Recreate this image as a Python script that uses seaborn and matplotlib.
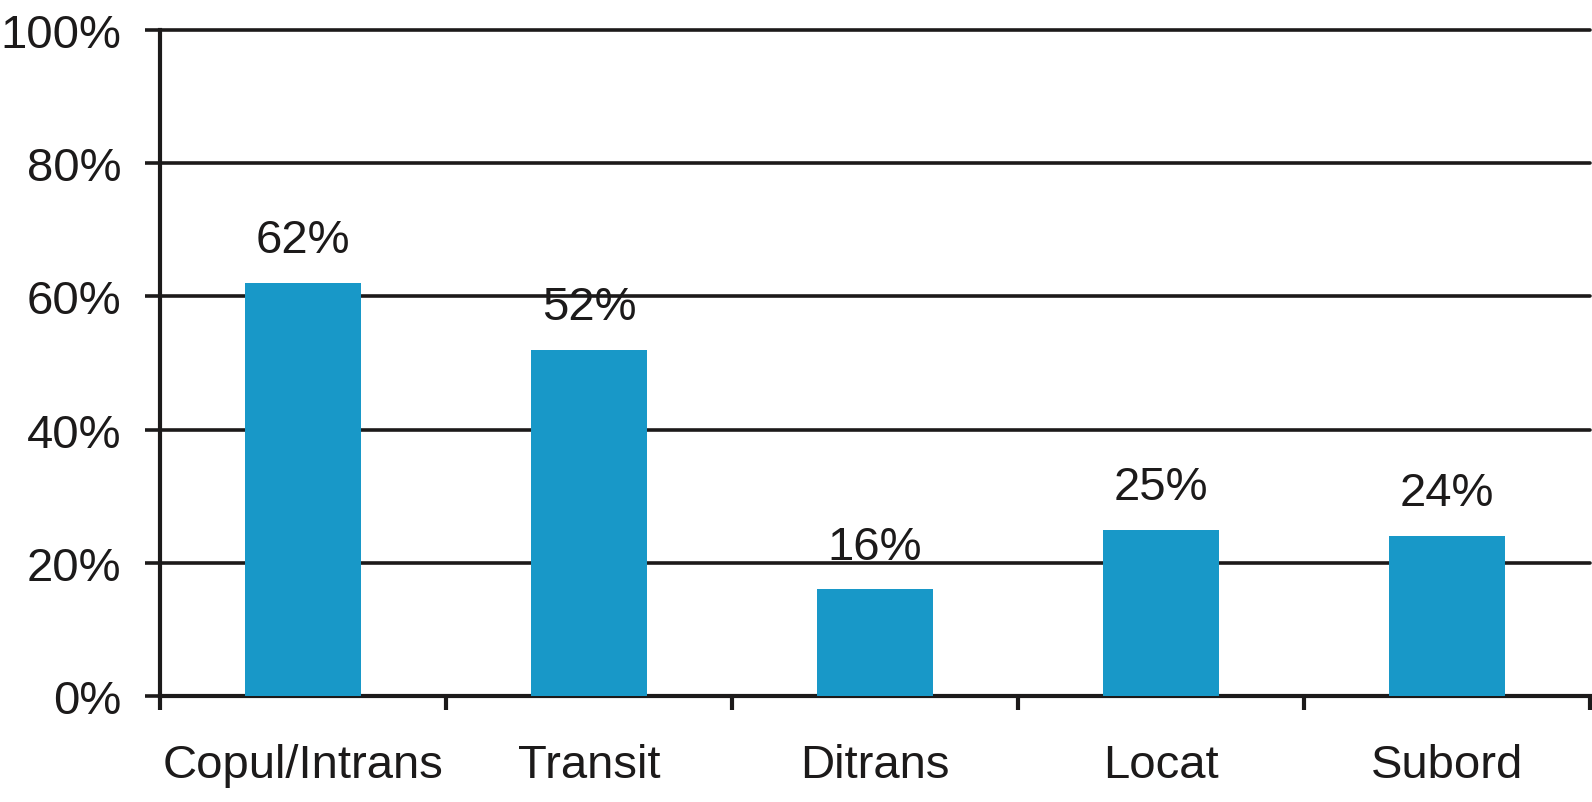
import numpy as np
import pandas as pd
import seaborn as sns
import matplotlib.pyplot as plt
from matplotlib.ticker import FixedLocator, PercentFormatter

categories = ["Copul/Intrans", "Transit", "Ditrans", "Locat", "Subord"]
percents = [62, 52, 16, 25, 24]
y_ticks = [0, 20, 40, 60, 80, 100]

bar_color = "#1898c8"
ink = "#1c1a1a"

sns.set_theme(style="white")
plt.rcParams["font.family"] = ["Liberation Sans", "DejaVu Sans"]

df = pd.DataFrame({"category": categories, "percent": percents})

fig = plt.figure(figsize=(15.92, 8.03), dpi=100)
ax = fig.add_axes([160 / 1592, 1 - 697 / 803, 1430 / 1592, 666 / 803])

sns.barplot(data=df, x="category", y="percent", color=bar_color,
            saturation=1, width=0.405, linewidth=0, ax=ax, zorder=3)

ax.set_xlim(-0.5, len(categories) - 0.5)
ax.set_ylim(0, 100)
ax.set_yticks(y_ticks)
ax.yaxis.set_major_formatter(PercentFormatter(decimals=0))
ax.yaxis.grid(True, color=ink, linewidth=2.6)
ax.set_axisbelow(True)
# keep the 100% line at full width instead of half clipped
for gl in ax.get_ygridlines():
    gl.set_clip_on(False)

# x ticks sit between the categories
ax.xaxis.set_minor_locator(FixedLocator(np.arange(-0.5, len(categories), 1.0)))
ax.tick_params(axis="x", which="major", length=0, pad=34, labelsize=34, colors=ink)
ax.tick_params(axis="x", which="minor", length=10, width=3, direction="out", color=ink)
ax.tick_params(axis="y", length=11, width=2.6, direction="out", pad=17,
               labelsize=34, color=ink, labelcolor=ink)
ax.tick_params(axis="both", which="both", bottom=True, left=True)

for side in ["top", "right"]:
    ax.spines[side].set_visible(False)
for side in ["left", "bottom"]:
    ax.spines[side].set_linewidth(3)
    ax.spines[side].set_color(ink)

for i, v in enumerate(percents):
    ax.annotate(f"{v}%", (i, v), xytext=(0, 15), textcoords="offset points",
                ha="center", va="bottom", fontsize=34, color=ink)

ax.set_xlabel("")
ax.set_ylabel("")

fig.savefig("out.png", dpi=100)
